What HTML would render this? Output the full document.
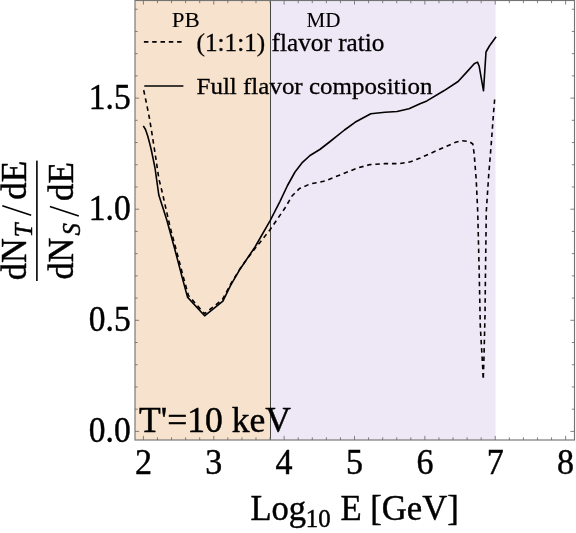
<!DOCTYPE html>
<html><head><meta charset="utf-8"><title>plot</title>
<style>
html,body{margin:0;padding:0;background:#fff;}
body{width:576px;height:533px;overflow:hidden;font-family:"Liberation Serif",serif;}
svg{display:block;font-family:"Liberation Serif",serif;will-change:transform;}
</style></head><body>
<svg width="576" height="533" viewBox="0 0 576 533">
<rect x="0" y="0" width="576" height="533" fill="#ffffff"/>
<rect x="135.0" y="0.5" width="135.5" height="439.5" fill="#f7e2cd"/>
<rect x="270.5" y="0.5" width="225.0" height="439.5" fill="#eee7f6"/>
<line x1="270.5" y1="0.5" x2="270.5" y2="440.0" stroke="#333" stroke-width="0.9"/>
<g stroke="#6c6c6c" stroke-width="0.85" fill="none">
<rect x="135.0" y="0.5" width="439.5" height="439.5" stroke="#747474" stroke-width="1.15"/>
<line x1="143.40" y1="440.0" x2="143.40" y2="435.9"/><line x1="143.40" y1="0.5" x2="143.40" y2="4.6"/><line x1="157.47" y1="440.0" x2="157.47" y2="437.3"/><line x1="157.47" y1="0.5" x2="157.47" y2="3.2"/><line x1="171.55" y1="440.0" x2="171.55" y2="437.3"/><line x1="171.55" y1="0.5" x2="171.55" y2="3.2"/><line x1="185.62" y1="440.0" x2="185.62" y2="437.3"/><line x1="185.62" y1="0.5" x2="185.62" y2="3.2"/><line x1="199.70" y1="440.0" x2="199.70" y2="437.3"/><line x1="199.70" y1="0.5" x2="199.70" y2="3.2"/><line x1="213.77" y1="440.0" x2="213.77" y2="435.9"/><line x1="213.77" y1="0.5" x2="213.77" y2="4.6"/><line x1="227.84" y1="440.0" x2="227.84" y2="437.3"/><line x1="227.84" y1="0.5" x2="227.84" y2="3.2"/><line x1="241.92" y1="440.0" x2="241.92" y2="437.3"/><line x1="241.92" y1="0.5" x2="241.92" y2="3.2"/><line x1="255.99" y1="440.0" x2="255.99" y2="437.3"/><line x1="255.99" y1="0.5" x2="255.99" y2="3.2"/><line x1="270.07" y1="440.0" x2="270.07" y2="437.3"/><line x1="270.07" y1="0.5" x2="270.07" y2="3.2"/><line x1="284.14" y1="440.0" x2="284.14" y2="435.9"/><line x1="284.14" y1="0.5" x2="284.14" y2="4.6"/><line x1="298.21" y1="440.0" x2="298.21" y2="437.3"/><line x1="298.21" y1="0.5" x2="298.21" y2="3.2"/><line x1="312.29" y1="440.0" x2="312.29" y2="437.3"/><line x1="312.29" y1="0.5" x2="312.29" y2="3.2"/><line x1="326.36" y1="440.0" x2="326.36" y2="437.3"/><line x1="326.36" y1="0.5" x2="326.36" y2="3.2"/><line x1="340.44" y1="440.0" x2="340.44" y2="437.3"/><line x1="340.44" y1="0.5" x2="340.44" y2="3.2"/><line x1="354.51" y1="440.0" x2="354.51" y2="435.9"/><line x1="354.51" y1="0.5" x2="354.51" y2="4.6"/><line x1="368.58" y1="440.0" x2="368.58" y2="437.3"/><line x1="368.58" y1="0.5" x2="368.58" y2="3.2"/><line x1="382.66" y1="440.0" x2="382.66" y2="437.3"/><line x1="382.66" y1="0.5" x2="382.66" y2="3.2"/><line x1="396.73" y1="440.0" x2="396.73" y2="437.3"/><line x1="396.73" y1="0.5" x2="396.73" y2="3.2"/><line x1="410.81" y1="440.0" x2="410.81" y2="437.3"/><line x1="410.81" y1="0.5" x2="410.81" y2="3.2"/><line x1="424.88" y1="440.0" x2="424.88" y2="435.9"/><line x1="424.88" y1="0.5" x2="424.88" y2="4.6"/><line x1="438.95" y1="440.0" x2="438.95" y2="437.3"/><line x1="438.95" y1="0.5" x2="438.95" y2="3.2"/><line x1="453.03" y1="440.0" x2="453.03" y2="437.3"/><line x1="453.03" y1="0.5" x2="453.03" y2="3.2"/><line x1="467.10" y1="440.0" x2="467.10" y2="437.3"/><line x1="467.10" y1="0.5" x2="467.10" y2="3.2"/><line x1="481.18" y1="440.0" x2="481.18" y2="437.3"/><line x1="481.18" y1="0.5" x2="481.18" y2="3.2"/><line x1="495.25" y1="440.0" x2="495.25" y2="435.9"/><line x1="495.25" y1="0.5" x2="495.25" y2="4.6"/><line x1="509.32" y1="440.0" x2="509.32" y2="437.3"/><line x1="509.32" y1="0.5" x2="509.32" y2="3.2"/><line x1="523.40" y1="440.0" x2="523.40" y2="437.3"/><line x1="523.40" y1="0.5" x2="523.40" y2="3.2"/><line x1="537.47" y1="440.0" x2="537.47" y2="437.3"/><line x1="537.47" y1="0.5" x2="537.47" y2="3.2"/><line x1="551.55" y1="440.0" x2="551.55" y2="437.3"/><line x1="551.55" y1="0.5" x2="551.55" y2="3.2"/><line x1="565.62" y1="440.0" x2="565.62" y2="435.9"/><line x1="565.62" y1="0.5" x2="565.62" y2="4.6"/><line x1="135.0" y1="431.40" x2="139.1" y2="431.40"/><line x1="574.5" y1="431.40" x2="570.4" y2="431.40"/><line x1="135.0" y1="409.18" x2="137.7" y2="409.18"/><line x1="574.5" y1="409.18" x2="571.8" y2="409.18"/><line x1="135.0" y1="386.96" x2="137.7" y2="386.96"/><line x1="574.5" y1="386.96" x2="571.8" y2="386.96"/><line x1="135.0" y1="364.74" x2="137.7" y2="364.74"/><line x1="574.5" y1="364.74" x2="571.8" y2="364.74"/><line x1="135.0" y1="342.52" x2="137.7" y2="342.52"/><line x1="574.5" y1="342.52" x2="571.8" y2="342.52"/><line x1="135.0" y1="320.30" x2="139.1" y2="320.30"/><line x1="574.5" y1="320.30" x2="570.4" y2="320.30"/><line x1="135.0" y1="298.08" x2="137.7" y2="298.08"/><line x1="574.5" y1="298.08" x2="571.8" y2="298.08"/><line x1="135.0" y1="275.86" x2="137.7" y2="275.86"/><line x1="574.5" y1="275.86" x2="571.8" y2="275.86"/><line x1="135.0" y1="253.64" x2="137.7" y2="253.64"/><line x1="574.5" y1="253.64" x2="571.8" y2="253.64"/><line x1="135.0" y1="231.42" x2="137.7" y2="231.42"/><line x1="574.5" y1="231.42" x2="571.8" y2="231.42"/><line x1="135.0" y1="209.20" x2="139.1" y2="209.20"/><line x1="574.5" y1="209.20" x2="570.4" y2="209.20"/><line x1="135.0" y1="186.98" x2="137.7" y2="186.98"/><line x1="574.5" y1="186.98" x2="571.8" y2="186.98"/><line x1="135.0" y1="164.76" x2="137.7" y2="164.76"/><line x1="574.5" y1="164.76" x2="571.8" y2="164.76"/><line x1="135.0" y1="142.54" x2="137.7" y2="142.54"/><line x1="574.5" y1="142.54" x2="571.8" y2="142.54"/><line x1="135.0" y1="120.32" x2="137.7" y2="120.32"/><line x1="574.5" y1="120.32" x2="571.8" y2="120.32"/><line x1="135.0" y1="98.10" x2="139.1" y2="98.10"/><line x1="574.5" y1="98.10" x2="570.4" y2="98.10"/><line x1="135.0" y1="75.88" x2="137.7" y2="75.88"/><line x1="574.5" y1="75.88" x2="571.8" y2="75.88"/><line x1="135.0" y1="53.66" x2="137.7" y2="53.66"/><line x1="574.5" y1="53.66" x2="571.8" y2="53.66"/><line x1="135.0" y1="31.44" x2="137.7" y2="31.44"/><line x1="574.5" y1="31.44" x2="571.8" y2="31.44"/><line x1="135.0" y1="9.22" x2="137.7" y2="9.22"/><line x1="574.5" y1="9.22" x2="571.8" y2="9.22"/>
</g>
<path d="M143.3,125.8 L145.5,129.5 L147.8,136.3 L150.0,144.6 L151.3,150.0 L153.3,159.6 L155.0,168.0 L158.8,195.0 L166.8,220.0 L175.0,250.0 L182.5,278.6 L187.5,297.1 L204.6,315.8 L222.9,301.2 L230.6,285.3 L240.0,269.2 L255.0,247.0 L270.0,220.8 L280.0,201.3 L287.5,185.5 L295.0,172.0 L302.5,162.3 L310.0,155.5 L319.8,149.5 L329.5,142.0 L344.5,130.0 L355.0,122.3 L370.8,113.7 L385.0,112.2 L397.0,111.5 L409.0,108.8 L420.0,103.8 L426.9,100.9 L443.8,90.8 L458.1,81.5 L467.4,71.4 L474.2,63.8 L477.5,62.1 L479.2,66.3 L483.5,90.8 L486.0,52.0 L489.4,46.0 L496.1,36.8" fill="none" stroke="#000" stroke-width="1.6" stroke-linejoin="round"/>
<path d="M483.3,377.5 L480.3,326.4 L479.2,272.3 L477.7,211.2 L476.2,179.5 L474.2,154.2 L472.8,144.0 L469.1,141.5 L462.3,140.7 L455.6,142.3 L443.8,147.4 L426.9,155.0 L419.6,158.3 L410.5,161.8 L400.0,163.6 L385.0,163.6 L370.0,164.6 L356.5,168.3 L340.0,175.0 L325.0,181.0 L310.0,184.0 L299.5,188.5 L292.0,196.0 L285.0,208.0 L270.0,229.8 L255.0,248.5 L247.5,258.3 L240.5,268.0 L231.0,283.5 L222.5,299.5 L204.6,313.7 L188.5,295.6 L183.5,277.6 L176.0,249.0 L170.0,226.6 L162.5,193.5 L158.8,178.5 L155.7,157.3 L152.3,135.6 L149.3,117.5 L146.3,102.5 L143.7,90.2" fill="none" stroke="#000" stroke-width="1.6" stroke-dasharray="4.5,3.8"/>
<path d="M483.3,377.5 L483.9,360.0 L485.0,315.0 L485.5,271.0 L486.3,211.2 L488.7,175.0 L491.1,145.7 L493.6,112.0 L494.8,97.6" fill="none" stroke="#000" stroke-width="1.6" stroke-dasharray="4.5,3.8"/>
<line x1="143.9" y1="41.9" x2="183.3" y2="41.9" stroke="#000" stroke-width="1.7" stroke-dasharray="4.5,3.8"/>
<line x1="144.3" y1="86.0" x2="183.4" y2="86.0" stroke="#000" stroke-width="1.7"/>
<g fill="#000" stroke="#000" stroke-width="0.45">
<text x="171.8" y="26.7" font-size="20.2" stroke-width="0.1" textLength="28" lengthAdjust="spacingAndGlyphs">PB</text>
<text x="306.4" y="26.7" font-size="20.2" stroke-width="0.1" textLength="34" lengthAdjust="spacingAndGlyphs">MD</text>
<text x="196.5" y="50.8" font-size="24.2" stroke-width="0.3" textLength="188" lengthAdjust="spacingAndGlyphs">(1:1:1) flavor ratio</text>
<text x="196.5" y="94.3" font-size="24.0" stroke-width="0.3" textLength="236" lengthAdjust="spacingAndGlyphs">Full flavor composition</text>
<g font-size="35"><text x="143.4" y="473.8" text-anchor="middle" font-size="35.5" textLength="17" lengthAdjust="spacingAndGlyphs">2</text><text x="213.8" y="473.8" text-anchor="middle" font-size="35.5" textLength="17" lengthAdjust="spacingAndGlyphs">3</text><text x="284.1" y="473.8" text-anchor="middle" font-size="35.5" textLength="17" lengthAdjust="spacingAndGlyphs">4</text><text x="354.5" y="473.8" text-anchor="middle" font-size="35.5" textLength="17" lengthAdjust="spacingAndGlyphs">5</text><text x="424.9" y="473.8" text-anchor="middle" font-size="35.5" textLength="17" lengthAdjust="spacingAndGlyphs">6</text><text x="495.2" y="473.8" text-anchor="middle" font-size="35.5" textLength="17" lengthAdjust="spacingAndGlyphs">7</text><text x="565.6" y="473.8" text-anchor="middle" font-size="35.5" textLength="17" lengthAdjust="spacingAndGlyphs">8</text><text x="130.6" y="442.2" text-anchor="end" font-size="35.5" textLength="41.8" lengthAdjust="spacingAndGlyphs">0.0</text><text x="130.6" y="331.1" text-anchor="end" font-size="35.5" textLength="41.8" lengthAdjust="spacingAndGlyphs">0.5</text><text x="130.6" y="220.0" text-anchor="end" font-size="35.5" textLength="41.8" lengthAdjust="spacingAndGlyphs">1.0</text><text x="130.6" y="108.9" text-anchor="end" font-size="35.5" textLength="41.8" lengthAdjust="spacingAndGlyphs">1.5</text>
<text x="139" y="431.8" textLength="152" lengthAdjust="spacingAndGlyphs">T'=10 keV</text>
<text x="250.4" y="519.6" textLength="55.6" lengthAdjust="spacingAndGlyphs">Log</text>
<text x="305.8" y="527.4" font-size="24.8">10</text>
<text x="340.4" y="519.6" textLength="118.4" lengthAdjust="spacingAndGlyphs">E [GeV]</text>
</g>
<g transform="translate(25.8,280.2) rotate(-90)" font-size="35">
<text x="0" y="0" textLength="41.8" lengthAdjust="spacingAndGlyphs">dN</text>
<text x="42.9" y="6.2" font-size="24.8" font-style="italic">T</text>
<line x1="65.0" y1="5.4" x2="74.4" y2="-23.5" stroke-width="1.6"/>
<text x="80.4" y="0">dE</text>
</g>
<rect x="36.1" y="160.6" width="1.6" height="120.4" stroke="none"/>
<g transform="translate(73.4,279.5) rotate(-90)" font-size="35">
<text x="0" y="0" textLength="41.8" lengthAdjust="spacingAndGlyphs">dN</text>
<text x="44.0" y="6.2" font-size="24.8" font-style="italic">S</text>
<line x1="63.6" y1="5.4" x2="73.0" y2="-23.5" stroke-width="1.6"/>
<text x="78.6" y="0">dE</text>
</g>
</g>
</svg>
</body></html>
